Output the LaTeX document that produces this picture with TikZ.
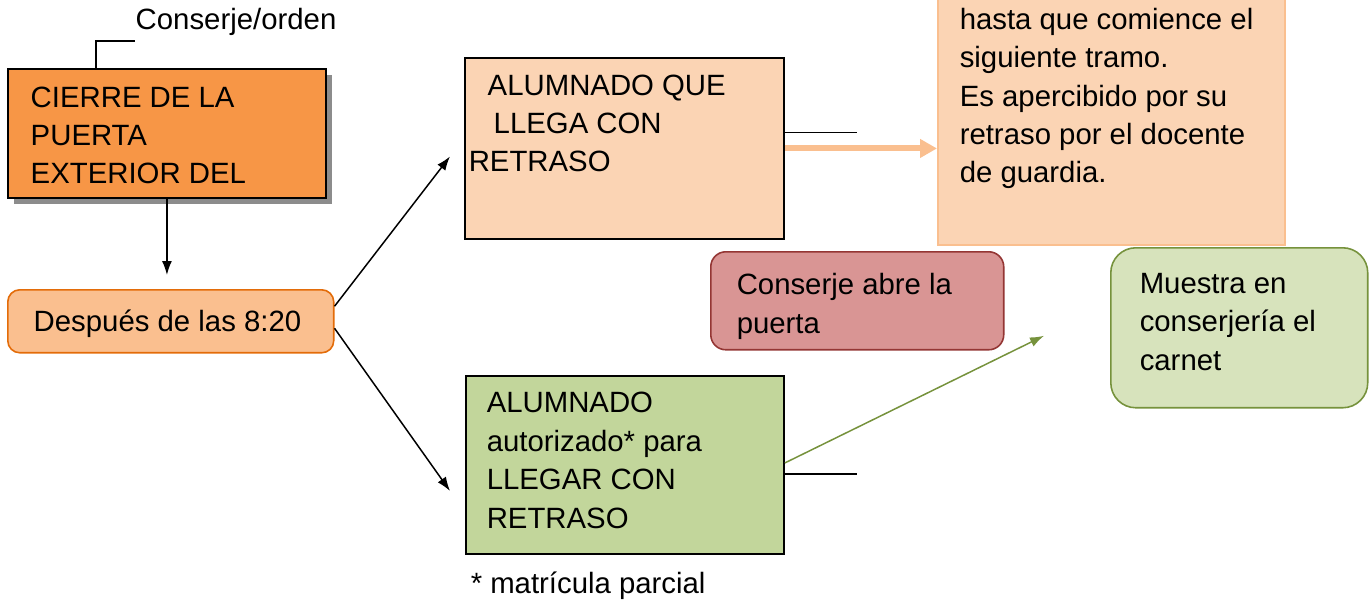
\documentclass[tikz,border=0pt]{standalone}
\usepackage{fontspec}
\setmainfont{Liberation Sans}
\usetikzlibrary{arrows.meta,calc,shadows}

\definecolor{naranja}{HTML}{F79646}
\definecolor{melocoton}{HTML}{FBD4B4}
\definecolor{salmon}{HTML}{FABF8F}
\definecolor{bordenar}{HTML}{E36C09}
\definecolor{rojizo}{HTML}{D99594}
\definecolor{borderojo}{HTML}{943634}
\definecolor{verdeclaro}{HTML}{D7E3BC}
\definecolor{verdemedio}{HTML}{C2D69B}
\definecolor{verdeosc}{HTML}{76923C}

\begin{document}
\begin{tikzpicture}[
		x=0.02cm, y=-0.02cm,
		caja/.style={draw=black,line width=1.1pt,anchor=north west,inner sep=0pt},
		redonda/.style={anchor=north west,inner sep=0pt,line width=0.9pt},
		txt/.style={anchor=base west,inner sep=0pt,align=left,
			font=\fontsize{16.7}{21.9}\selectfont},
		>={Latex[length=0.28cm,width=0.2cm]},
		line width=0.85pt]
	\useasboundingbox (0,0) rectangle (1370,608);
	%% left column (multi-line texts sit on their last baseline)
	\node (cierre) at (7,68) [caja, fill=naranja, minimum width=6.36cm, minimum height=2.58cm,
		drop shadow={shadow xshift=0.12cm, shadow yshift=-0.12cm, fill=black!45, opacity=1}] {};
	\node (tcierre) at (30,184) [txt] {CIERRE DE LA\\PUERTA\\EXTERIOR DEL};
	\node (orden) at (135,30) [txt] {Conserje/orden};
	\draw ($(cierre.north west)+(89,0)$) |- ($(orden.base west)+(0,11)$);
	\node (despues) at (7,289) [redonda, draw=bordenar, fill=salmon, rounded corners=0.24cm,
		minimum width=6.52cm, minimum height=1.26cm] {};
	\node (tdespues) at (33,331) [txt] {Después de las 8:20};
	\draw[->, shorten >=0.28cm] (cierre.south) -- (cierre.south |- despues.north);
	%% middle column
	\node (alq) at (464,57) [caja, fill=melocoton, minimum width=6.38cm, minimum height=3.62cm] {};
	\node (talq) at (468,172) [txt] {\hspace*{0.38cm}ALUMNADO QUE\\\hspace*{0.5cm}LLEGA CON\\RETRASO};
	\node (aut) at (465,375) [caja, fill=verdemedio, minimum width=6.36cm, minimum height=3.56cm] {};
	\node (taut) at (486,528) [txt] {ALUMNADO\\autorizado* para\\LLEGAR CON\\RETRASO};
	\node (nota) at (470,593) [txt] {* matrícula parcial};
	\coordinate (fin1) at ($(alq.west)+(-14,8)$);
	\coordinate (fin2) at ($(aut.west)+(-15,26)$);
	\draw[->] ($(despues.east)+(0,-15)$) -- (fin1);
	\draw[->] ($(despues.east)+(0,7)$) -- (fin2);
	%% right side
	\node (guardia) at (937,-20) [anchor=north west, inner sep=0pt, draw=salmon, line width=1.1pt,
		fill=melocoton, minimum width=6.94cm, minimum height=5.28cm] {};
	\node (tguardia) at (959,183) [txt] {hasta que comience el\\siguiente tramo.\\Es apercibido por su\\retraso por el docente\\de guardia.};
	\node (abre) at (710,251) [redonda, draw=borderojo, fill=rojizo, rounded corners=0.3cm,
		minimum width=5.86cm, minimum height=1.96cm] {};
	\node (tabre) at (736,333) [txt] {Conserje abre la\\puerta};
	\node (carnet) at (1110,247) [redonda, draw=verdeosc, fill=verdeclaro, rounded corners=0.5cm,
		minimum width=5.14cm, minimum height=3.2cm] {};
	\node (tcarnet) at (1139,370) [txt] {Muestra en\\conserjería el\\carnet};
	%% connectors
	\draw ($(alq.east)+(0,-16)$) -- +(72,0);
	\draw[salmon, line width=0.12cm, -{Triangle[length=0.34cm,width=0.36cm]}] (alq.east) -- (alq.east -| guardia.west);
	\coordinate (fin3) at ($(carnet.west)+(-66,8)$);
	\draw[verdeosc, ->] ($(aut.east)+(0,-2)$) -- (fin3);
	\draw ($(aut.east)+(0,9)$) -- +(72,0);
\end{tikzpicture}
\end{document}
